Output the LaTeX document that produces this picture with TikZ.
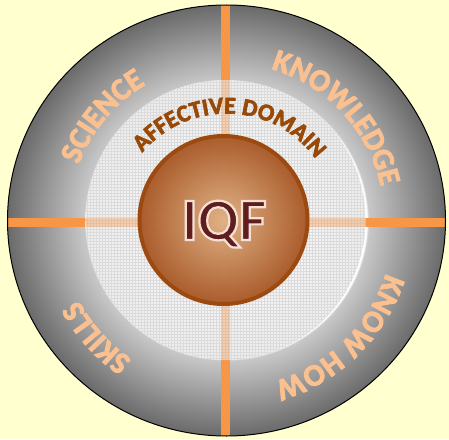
\documentclass[tikz,border=0pt]{standalone}
\usepackage{fontspec}
\setmainfont{Carlito}
\usetikzlibrary{decorations.text,patterns}

\definecolor{bgyellow}{RGB}{255,255,208}
\definecolor{ringdark}{RGB}{106,106,106}
\definecolor{ringlight}{RGB}{200,200,200}
\definecolor{barorange}{RGB}{247,150,70}
\definecolor{peach}{RGB}{250,192,144}
\definecolor{rust}{RGB}{152,72,7}
\definecolor{coreedge}{RGB}{156,74,16}
\definecolor{coreinner}{RGB}{224,178,134}
\definecolor{coreouter}{RGB}{170,92,44}
\definecolor{iqfmaroon}{RGB}{94,30,30}

\pgfdeclareradialshading{ringshade}{\pgfpoint{0bp}{0bp}}{color(0bp)=(white); color(16bp)=(white); color(16.2bp)=(ringlight); color(25bp)=(ringdark); color(50bp)=(ringdark)}

% stroke round the letters (fill + stroke render mode)
\newcommand\letterrim[2]{\special{pdf:code 2 Tr #1 w #2 RG}}
\newcommand\ringfont{\bfseries\fontsize{31}{31}\selectfont\letterrim{0.9}{0.98 0.753 0.565}}
\newcommand\domainfont{\bfseries\fontsize{24}{24}\selectfont\letterrim{0.7}{0.596 0.282 0.027}}
\newcommand\iqffont{\bfseries\fontsize{60}{60}\selectfont}

\tikzset{
  ringlabel/.style={decorate, decoration={text along path, text align=center,
    text color=peach, text={|\ringfont|#1}}},
  crossbar/.style={barorange, line width=9}
}

\begin{document}
\begin{tikzpicture}[x=1pt,y=1pt]
            \fill[bgyellow] (-226.5,-218.5) rectangle (222.5,220.5);
            \useasboundingbox (-226.5,-218.5) rectangle (222.5,220.5);
            % outer ring
            \shade[shading=ringshade] (0,0) ellipse[x radius=219, y radius=215.5];
            \begin{scope}
              \clip (0,0) ellipse[x radius=219, y radius=215.5];
              \draw[crossbar] (-230,-1.5) -- (230,-1.5);
              \draw[crossbar] (-1,-230) -- (-1,230);
            \end{scope}
            \draw[black, line width=1] (0,0) ellipse[x radius=219, y radius=215.5];
            % affective domain disc
            \shade[inner color=white, outer color=gray!14] (-1,0.5) circle[radius=140];
            \fill[pattern=grid, pattern color=gray!28] (-1,0.5) circle[radius=140];
            \begin{scope}
              \clip (-1,0.5) circle[radius=140];
              \draw[crossbar, opacity=0.38] (-230,-1.5) -- (230,-1.5);
              \draw[crossbar, opacity=0.38] (-1,-230) -- (-1,230);
            \end{scope}
            % core
            \shade[inner color=coreinner, outer color=coreouter] (-3,0.5) circle[radius=84];
            \draw[coreedge, line width=4] (-3,0.5) circle[radius=84];
            \node[text=iqfmaroon, font=\iqffont, anchor=base] (iqf) at (-2.5,-19.5) {\letterrim{2.2}{0.965 0.878 0.839}IQF};
            % labels
            \path[decorate, decoration={text along path, text align=center, text color=rust,
              text={|\domainfont|AFFECTIVE DOMAIN}}]
              (0,-3) ++(178:110) arc[start angle=178, end angle=-2, radius=110];
            \path[ringlabel=SCIENCE] (200:158) arc[start angle=200, end angle=80, radius=158];
            \path[ringlabel=KNOWLEDGE] (100:158) arc[start angle=100, end angle=-14, radius=158];
            \path[ringlabel=KNOW HOW] (14:168) arc[start angle=14, end angle=-106, radius=168];
            \path[ringlabel=SKILLS] (-78:168) arc[start angle=-78, end angle=-198, radius=168];
          \end{tikzpicture}
\end{document}
